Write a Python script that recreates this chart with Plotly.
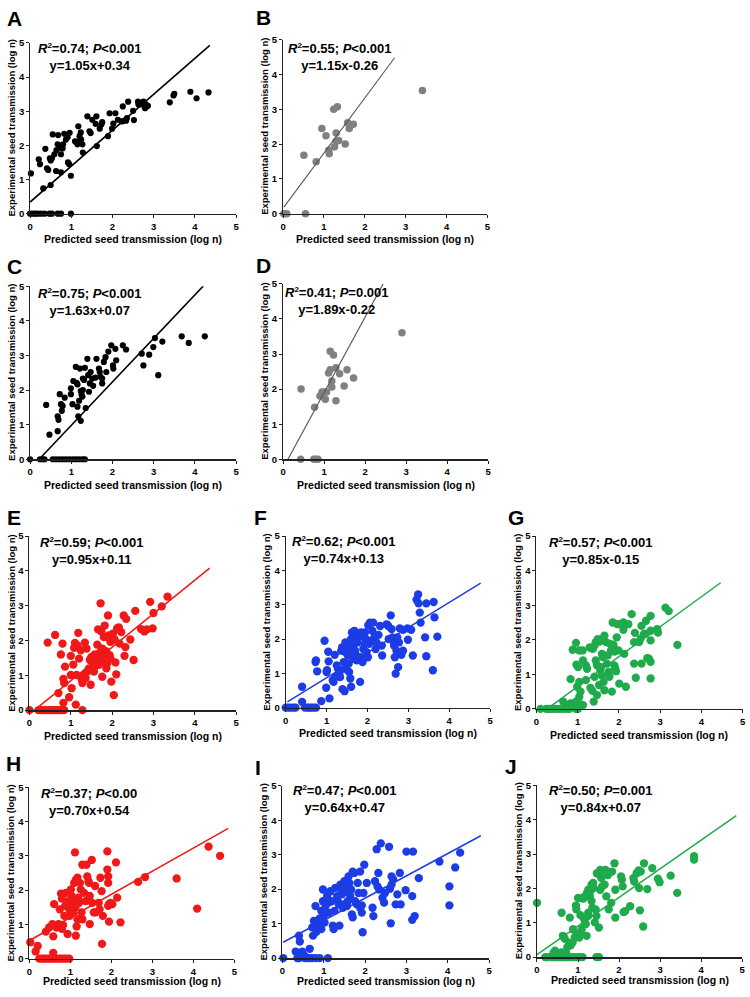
import plotly.graph_objects as go

W, H = 750, 997
FONT = "Liberation Sans, Arial, sans-serif"

# ---------------- data ----------------
A_x = [0.02,0.21,0.24,0.32,0.37,0.41,0.44,0.48,0.50,0.53,
       0.50,0.55,0.59,0.63,0.64,0.67,0.68,0.72,0.75,0.75,
       0.79,0.80,0.83,0.87,0.91,0.92,0.95,0.96,0.99,1.09,
       1.12,1.15,1.17,1.20,1.23,1.24,1.27,1.28,1.39,1.44,
       1.47,1.51,1.59,1.61,1.62,1.69,1.73,1.75,1.89,1.93,
       1.99,2.02,2.07,2.13,2.23,2.27,2.33,2.35,2.25,2.38,
       2.50,2.52,2.62,2.63,2.71,2.75,2.78,2.81,2.83,2.86,
       2.79,3.39,3.48,3.50,3.89,4.04,4.33,
       0.00,0.06,0.12,0.18,0.26,0.35,0.47,0.53,0.67,0.75,0.99]
A_y = [1.18,1.59,1.45,0.74,1.90,1.33,1.28,1.62,1.56,1.62,
       0.84,2.32,1.74,1.25,1.86,2.03,2.30,1.93,1.74,1.21,
       1.91,2.03,2.34,2.17,2.24,1.50,1.45,2.37,1.11,2.12,
       2.10,2.03,2.56,2.27,2.38,2.17,2.03,1.79,2.85,2.41,
       2.36,2.75,2.63,2.85,1.98,2.49,2.61,2.68,2.27,2.94,
       2.49,2.64,2.94,2.75,2.70,2.72,2.72,2.80,3.14,3.28,
       3.01,2.74,3.28,3.20,3.20,3.28,3.23,3.19,3.14,3.16,
       3.09,3.26,3.46,3.51,3.57,3.38,3.55,
       0,0,0,0,0,0,0,0,0,0,0]

B_x = [0.02,0.09,0.55,0.51,0.81,0.95,1.05,1.12,1.13,1.24,
       1.33,1.26,1.30,1.30,1.36,1.52,1.58,1.62,1.72,3.41]
B_y = [0.00,0.00,0.00,1.68,1.49,2.45,2.24,1.82,1.72,3.00,
       3.07,1.92,2.32,2.08,2.10,2.00,2.61,2.45,2.57,3.54]

C_x = [0.39,0.47,0.67,0.67,0.69,0.72,0.77,0.75,0.79,0.84,
       0.99,0.99,1.03,1.05,1.11,1.13,1.15,1.15,1.17,1.19,
       1.21,1.23,1.23,1.25,1.27,1.28,1.28,1.31,1.33,1.35,
       1.39,1.41,1.45,1.43,1.47,1.51,1.53,1.59,1.61,1.67,
       1.69,1.71,1.75,1.79,1.83,1.75,1.85,1.90,1.97,2.01,
       2.02,2.07,2.09,2.25,2.33,2.71,2.75,2.89,2.99,3.03,
       3.11,3.21,3.68,3.85,4.24,
       0.00,0.24,0.30,0.35,0.55,0.63,0.71,0.79,0.87,0.95,1.03,1.11,1.19,1.27,1.33]
C_y = [1.57,0.71,0.81,1.24,1.14,1.88,1.40,1.59,1.54,1.78,
       1.88,2.05,1.59,2.26,2.67,2.21,2.16,1.52,1.24,1.69,
       2.62,1.97,1.11,1.86,1.81,2.00,2.33,2.29,2.64,1.48,
       2.90,2.43,2.19,1.95,2.52,2.33,2.12,2.36,2.90,2.62,
       2.52,2.38,2.33,2.81,2.95,2.19,2.52,3.11,3.29,2.71,
       2.62,3.19,2.86,3.29,3.17,3.05,2.71,3.02,3.24,3.50,
       2.43,3.40,3.55,3.36,3.55,
       0,0,0,0,0,0,0,0,0,0,0,0,0,0,0]

D_x = [0.43,0.44,0.75,0.79,0.85,0.77,0.90,0.95,1.01,1.06,
       1.03,1.11,1.15,1.15,1.19,1.19,1.23,1.29,1.29,1.38,
       1.49,1.56,1.72,2.90]
D_y = [0.00,2.00,0.00,0.00,0.00,1.48,1.80,1.92,1.92,1.92,
       1.71,2.46,3.08,2.55,2.23,2.06,2.97,2.61,1.67,2.44,
       2.09,2.55,2.32,3.61]

E_x = [0.82,0.44,0.62,0.70,0.76,0.80,0.82,0.84,0.86,0.96,
       1.00,1.00,1.02,1.06,1.08,1.10,1.12,1.14,1.16,1.18,
       1.20,1.24,1.26,1.28,1.30,1.32,1.36,1.34,1.38,1.40,
       1.44,1.46,1.48,1.50,1.52,1.48,1.54,1.56,1.58,1.60,
       1.62,1.64,1.66,1.68,1.70,1.72,1.72,1.74,1.76,1.78,
       1.76,1.80,1.82,1.82,1.84,1.86,1.88,1.86,1.88,1.90,
       1.92,1.94,1.96,1.94,1.96,1.98,2.02,2.04,2.06,2.08,
       2.10,2.12,2.16,2.18,2.22,2.28,2.30,2.32,2.34,2.44,
       2.52,2.56,2.70,2.78,2.84,2.92,2.98,3.00,3.20,3.34,
       1.58,1.66,1.74,1.90,1.70,1.62,
       0.00,0.22,0.28,0.34,0.40,0.48,0.52,0.56,0.62,0.68,0.74,0.80,0.84,1.28]
E_y = [0.21,1.94,2.16,0.49,1.60,1.91,0.90,0.78,1.25,0.37,
       1.56,1.01,0.63,1.31,1.79,1.93,0.16,1.01,1.86,2.22,
       1.48,1.72,0.90,0.78,0.87,1.01,0.92,1.94,1.77,1.11,
       1.20,1.44,1.48,1.53,1.39,0.73,1.20,1.11,1.60,1.44,
       1.34,1.88,2.32,1.30,1.44,1.53,3.07,2.26,1.77,1.63,
       0.96,2.10,2.43,1.39,1.53,1.20,1.34,1.69,1.58,2.72,
       2.15,2.05,1.96,1.58,1.48,0.82,2.20,0.43,2.03,1.37,
       1.03,2.35,2.38,1.91,2.24,2.72,1.56,1.81,2.62,2.03,
       1.44,2.85,2.33,2.26,2.32,3.11,2.35,2.79,2.98,3.26,
       1.25,1.50,1.40,1.45,1.65,1.55,
       0,0,0,0,0,0,0,0,0,0,0,0,0,0]

F_x = [0.40,0.40,0.73,0.74,0.77,0.87,0.95,0.99,1.00,1.01,
       1.04,1.05,1.07,1.15,1.17,1.21,1.20,1.25,1.28,1.31,
       1.33,1.36,1.38,1.39,1.44,1.42,1.44,1.46,1.47,1.50,
       1.46,1.52,1.54,1.55,1.58,1.60,1.60,1.62,1.63,1.66,
       1.66,1.68,1.70,1.70,1.72,1.74,1.76,1.78,1.82,1.84,
       1.88,1.84,1.88,1.90,1.93,1.94,1.96,1.98,2.01,2.02,
       2.06,2.04,2.09,2.12,2.14,2.17,2.20,2.22,2.27,2.31,
       2.35,2.36,2.47,2.51,2.52,2.57,2.59,2.61,2.63,2.65,
       2.67,2.69,2.71,2.73,2.75,2.77,2.79,2.83,2.87,2.87,
       2.98,2.99,3.07,3.11,3.20,3.24,3.25,3.28,3.30,3.44,
       3.41,3.44,3.60,3.62,3.64,3.71,
       0.00,0.06,0.12,0.19,0.24,0.47,0.53,0.58,0.63,0.69,0.74]
F_y = [0.61,0.17,1.33,1.38,1.06,0.19,1.95,0.58,1.04,1.09,
       1.63,1.35,0.27,0.80,0.75,0.89,1.54,1.23,1.13,0.99,
       0.89,1.66,1.76,0.54,0.48,1.33,1.13,1.62,1.71,1.81,
       1.90,1.52,1.28,1.04,0.85,0.61,2.00,2.19,1.66,1.81,
       1.42,2.24,2.10,1.66,1.52,1.38,1.90,2.05,0.75,2.19,
       2.10,1.47,1.33,1.71,1.86,2.19,2.00,1.62,1.47,2.40,
       2.48,1.86,1.95,2.24,2.48,2.05,1.71,1.90,2.12,2.38,
       1.81,1.52,2.43,2.38,2.00,2.69,2.29,2.05,1.95,1.81,
       1.47,0.99,1.66,2.05,1.18,1.90,2.31,1.54,1.66,2.27,
       2.31,1.98,2.27,1.52,3.15,3.30,3.04,2.77,2.48,3.04,
       2.05,1.50,1.09,3.08,2.63,2.07,
       0,0,0,0,0,0,0,0,0,0,0]

G_x = [0.65,0.77,0.83,0.88,0.96,1.07,1.13,0.83,0.88,0.96,
       0.97,1.01,0.99,1.04,1.07,1.04,1.12,1.04,1.13,1.20,
       1.23,1.20,1.29,1.33,1.37,1.31,1.36,1.39,1.41,1.44,
       1.41,1.44,1.47,1.47,1.52,1.49,1.53,1.55,1.57,1.59,
       1.59,1.61,1.63,1.65,1.65,1.69,1.71,1.73,1.75,1.77,
       1.79,1.81,1.83,1.85,1.87,1.89,1.89,1.91,1.93,1.95,
       1.97,1.99,2.01,2.05,2.11,2.11,2.13,2.17,2.23,2.31,
       2.37,2.37,2.39,2.41,2.49,2.53,2.55,2.55,2.61,2.65,
       2.66,2.69,2.73,2.77,2.77,2.77,2.77,2.77,2.93,2.95,
       3.13,3.21,3.42,
       0.10,0.24,0.30,0.35,0.41,0.48,0.56,0.64,0.72,0.80,0.96,1.01]
G_y = [0.21,0.10,0.16,0.11,0.21,0.13,0.11,0.86,1.71,1.91,
       1.28,1.21,0.64,0.78,0.50,1.69,1.69,0.35,1.40,1.26,
       1.16,0.83,1.78,1.76,1.74,0.61,0.52,0.21,1.83,1.93,
       0.93,1.40,1.26,0.40,0.69,2.02,1.95,1.12,1.21,0.97,
       1.59,1.50,0.78,0.54,2.12,1.93,1.31,1.55,1.07,0.93,
       1.88,1.69,0.50,2.50,1.85,1.66,1.26,1.18,1.09,2.07,
       2.45,1.69,0.73,2.45,2.50,2.29,1.59,0.64,2.45,2.74,
       1.93,1.31,2.20,0.90,1.93,2.04,2.40,1.31,2.17,2.17,
       2.55,1.47,1.45,1.36,2.26,1.98,2.69,0.88,2.31,2.21,
       2.93,2.83,1.85,
       0,0,0,0,0,0,0,0,0,0,0,0]

H_x = [0.02,0.15,0.20,0.58,0.40,0.48,0.56,0.58,0.60,0.66,
       0.71,0.74,0.77,0.79,0.79,0.82,0.85,0.87,0.89,0.93,
       0.95,0.97,0.98,1.01,1.03,1.05,1.06,1.09,1.09,1.11,
       1.13,1.13,1.17,1.15,1.17,1.19,1.21,1.23,1.25,1.27,
       1.29,1.29,1.39,1.33,1.37,1.41,1.44,1.45,1.47,1.47,
       1.52,1.53,1.57,1.60,1.61,1.69,1.71,1.73,1.76,1.77,
       1.79,1.90,1.90,1.92,1.92,1.92,1.94,1.94,1.98,2.02,
       2.11,2.14,2.22,2.65,2.82,3.59,4.09,4.37,4.65,0.99,
       1.04,1.12,1.00,
       0.24,0.31,0.36,0.42,0.48,0.55,0.60,0.66,0.73,0.79,0.85,0.90,0.97]
H_y = [0.48,0.21,0.37,0.17,0.79,0.91,1.01,0.65,1.59,0.91,
       1.01,1.44,1.90,1.75,0.87,0.98,1.25,1.54,1.92,0.72,
       1.68,1.44,1.25,2.02,1.83,1.49,1.35,1.59,2.21,3.10,
       0.67,2.30,2.36,0.94,1.15,1.78,1.63,2.21,2.02,1.35,
       1.15,2.74,2.74,1.92,1.68,2.40,2.26,2.21,1.83,1.01,
       2.88,1.63,1.35,2.12,1.35,1.63,1.44,2.36,1.97,0.43,
       1.25,2.60,3.13,2.40,2.21,1.54,1.59,1.08,1.63,1.59,
       2.81,1.78,1.06,2.24,2.38,2.34,1.46,3.27,3.00,1.60,
       1.72,1.50,1.40,
       0,0,0,0,0,0,0,0,0,0,0,0,0]

I_x = [0.32,0.48,0.66,0.54,0.40,0.42,0.72,0.74,0.76,0.80,
       0.82,0.84,0.86,0.90,0.92,0.94,0.94,0.98,0.98,1.00,
       1.02,1.04,1.08,1.12,1.12,1.16,1.18,1.22,1.24,1.26,
       1.28,1.32,1.34,1.36,1.38,1.40,1.42,1.44,1.46,1.48,
       1.50,1.52,1.54,1.56,1.58,1.60,1.62,1.64,1.66,1.68,
       1.70,1.70,1.74,1.76,1.80,1.82,1.84,1.88,1.88,1.92,
       1.92,1.94,1.98,1.96,2.04,2.18,2.20,2.24,2.28,2.30,
       2.32,2.34,2.38,2.42,2.46,2.48,2.58,2.60,2.64,2.62,
       2.64,2.68,2.74,2.78,2.84,2.86,2.98,3.00,3.16,3.14,
       3.20,3.14,3.30,3.80,4.04,4.04,4.18,4.30,
       0.02,0.36,0.40,0.54,0.60,0.66,0.72,0.80,0.90,1.10]
I_y = [0.19,0.19,0.27,0.06,0.65,0.48,0.89,0.65,1.08,1.51,
       0.76,0.94,1.08,1.15,1.03,0.84,1.37,1.65,1.99,1.22,
       1.03,1.51,1.80,1.61,1.32,1.94,1.65,0.94,0.84,1.37,
       2.04,1.80,1.65,1.56,0.94,2.13,1.99,1.85,1.46,1.56,
       2.23,2.08,1.94,1.51,1.65,2.37,2.18,1.80,1.99,1.27,
       1.18,2.51,2.47,1.65,1.56,2.18,1.89,2.51,1.46,1.53,
       1.32,0.75,2.71,1.89,2.18,1.46,1.22,2.23,3.16,2.08,
       2.47,1.99,3.33,1.75,1.61,1.89,3.23,2.01,2.13,1.01,
       2.37,2.28,1.56,1.85,2.47,1.56,1.97,3.09,3.09,1.11,
       1.22,1.80,2.32,2.80,2.08,1.53,2.63,3.06,
       0,0,0,0,0,0,0,0,0,0]

J_x = [0.00,0.40,0.44,0.55,0.60,0.66,0.71,0.60,0.63,0.66,
       0.68,0.74,0.79,0.82,0.87,0.80,0.88,0.92,0.95,0.95,
       0.96,1.00,1.03,1.06,1.09,1.06,1.11,1.13,1.17,1.13,
       1.17,1.19,1.21,1.25,1.25,1.22,1.25,1.29,1.30,1.33,
       1.35,1.33,1.37,1.38,1.41,1.43,1.45,1.46,1.51,1.53,
       1.54,1.57,1.54,1.59,1.65,1.67,1.69,1.73,1.75,1.81,
       1.83,1.89,1.91,1.91,2.05,2.07,2.09,2.11,2.15,2.27,
       2.35,2.37,2.43,2.48,2.49,2.51,2.53,2.59,2.61,2.69,
       2.81,2.95,2.99,3.26,3.42,3.83,3.83,
       0.20,0.26,0.36,0.42,0.48,0.55,0.60,0.66,0.72,0.79,0.87,0.95,1.03,1.11,1.45,1.51]
J_y = [1.58,0.12,0.19,0.10,0.14,0.07,0.12,1.29,0.62,0.57,
       0.53,0.29,0.41,0.34,0.43,1.15,0.81,0.57,0.64,1.50,
       1.39,1.72,0.57,0.72,0.81,1.22,1.72,1.70,1.77,1.15,
       1.01,0.96,0.62,1.20,1.29,1.87,1.96,1.77,1.92,1.63,
       1.44,2.11,2.16,2.01,1.01,1.39,1.20,2.44,0.86,2.39,
       2.54,2.30,1.96,2.06,2.11,2.54,1.77,2.39,1.39,1.58,
       2.49,2.73,1.96,1.15,2.35,2.25,2.06,1.31,1.34,1.48,
       2.30,2.20,2.44,2.52,2.01,1.36,2.49,0.89,2.73,1.98,
       2.59,2.28,2.18,2.37,1.87,2.94,2.84,
       0,0,0,0,0,0,0,0,0,0,0,0,0,0,0,0]

# fitted-line end points (data units)
A_fit_x, A_fit_y = [0.00, 4.36], [0.34, 4.93]
B_fit_x, B_fit_y = [0.02, 2.73], [0.19, 4.48]
C_fit_x, C_fit_y = [0.22, 4.20], [0.00, 5.00]
D_fit_x, D_fit_y = [0.12, 2.44], [0.00, 5.00]
E_fit_x, E_fit_y = [0.12, 4.36], [0.00, 4.08]
F_fit_x, F_fit_y = [0.04, 4.77], [0.17, 3.63]
G_fit_x, G_fit_y = [0.26, 4.47], [0.00, 3.65]
H_fit_x, H_fit_y = [0.00, 4.85], [0.53, 3.80]
I_fit_x, I_fit_y = [0.02, 4.80], [0.46, 3.55]
J_fit_x, J_fit_y = [0.00, 4.86], [0.07, 4.12]

LETTERS = ["A", "B", "C", "D", "E", "F", "G", "H", "I", "J"]
R2 = ["0.74", "0.55", "0.75", "0.41", "0.59", "0.62", "0.57", "0.37", "0.47", "0.50"]
PTXT = ["&lt;0.001", "&lt;0.001", "&lt;0.001", "=0.001", "&lt;0.001",
        "&lt;0.001", "&lt;0.001", "&lt;0.00", "&lt;0.001", "=0.001"]
EQS = ["y=1.05x+0.34", "y=1.15x-0.26", "y=1.63x+0.07", "y=1.89x-0.22", "y=0.95x+0.11",
       "y=0.74x+0.13", "y=0.85x-0.15", "y=0.70x+0.54", "y=0.64x+0.47", "y=0.84x+0.07"]
TICKS = [0, 1, 2, 3, 4, 5]
XTITLE = "Predicted seed transmission (log n)"
YTITLE = "Experimental seed transmission (log n)"

# ---------------- styling / layout (pixels) ----------------
BLACK = "#000000"
GRAY = "#808080"
RED = "#f01818"
BLUE = "#1c3ce6"
GREEN = "#1faa4c"

data = [(A_x, A_y, A_fit_x, A_fit_y), (B_x, B_y, B_fit_x, B_fit_y),
        (C_x, C_y, C_fit_x, C_fit_y), (D_x, D_y, D_fit_x, D_fit_y),
        (E_x, E_y, E_fit_x, E_fit_y), (F_x, F_y, F_fit_x, F_fit_y),
        (G_x, G_y, G_fit_x, G_fit_y), (H_x, H_y, H_fit_x, H_fit_y),
        (I_x, I_y, I_fit_x, I_fit_y), (J_x, J_y, J_fit_x, J_fit_y)]

styles = [
    # color, marker size, line color, line width, (x0, x5, ytop, ybottom), letter (cx, cy), stat (cx, cy)
    (BLACK, 6.2, BLACK, 1.6, (27.3, 235.0, 37.3, 210.0), (11.5, 12.5), (87.7, 51.7)),
    (GRAY, 7.5, "#555555", 1.1, (282.3, 488.3, 34.0, 210.0), (263.0, 12.0), (339.3, 51.7)),
    (BLACK, 6.2, BLACK, 1.6, (27.3, 235.0, 283.3, 458.3), (11.5, 263.0), (87.5, 299.7)),
    (GRAY, 7.5, "#555555", 1.1, (282.3, 489.0, 281.0, 458.3), (263.0, 262.5), (336.3, 298.5)),
    (RED, 8.3, RED, 1.5, (26.7, 235.0, 536.0, 712.0), (11.5, 517.0), (89.0, 550.8)),
    (BLUE, 8.3, BLUE, 1.5, (285.0, 491.0, 536.0, 709.5), (260.0, 517.0), (343.0, 550.5)),
    (GREEN, 8.3, GREEN, 1.5, (537.7, 745.5, 536.0, 710.7), (517.5, 517.0), (602.0, 550.7)),
    (RED, 8.3, RED, 1.5, (26.7, 233.3, 790.0, 963.3), (11.0, 765.5), (86.7, 805.0)),
    (BLUE, 8.3, BLUE, 1.5, (281.7, 490.0, 788.5, 962.7), (257.0, 770.5), (344.0, 802.3)),
    (GREEN, 8.3, GREEN, 1.5, (538.3, 745.0, 788.0, 961.7), (512.5, 768.5), (602.0, 802.3)),
]


def fx(p):
    return p / W


def fy(p):
    return 1 - p / H


fig = go.Figure()
layout = {}
annotations = []

for i, ((px_, py_, lx, ly), st, letter, r2, pt, eq) in enumerate(
        zip(data, styles, LETTERS, R2, PTXT, EQS), start=1):
    color, msize, lcol, lw, (x0, x5, yt, yb), (lcx, lcy), (scx, scy) = st
    xa = "x" if i == 1 else f"x{i}"
    ya = "y" if i == 1 else f"y{i}"
    n = min(len(px_), len(py_))
    fig.add_trace(go.Scatter(
        x=px_[:n], y=py_[:n], mode="markers", xaxis=xa, yaxis=ya,
        marker=dict(color=color, size=msize, line=dict(width=0)),
        cliponaxis=False, showlegend=False, hoverinfo="skip"))
    fig.add_trace(go.Scatter(
        x=lx, y=ly, mode="lines", xaxis=xa, yaxis=ya,
        line=dict(color=lcol, width=lw), cliponaxis=False,
        showlegend=False, hoverinfo="skip"))

    tickfont = dict(family=FONT, size=9.5, color="black", weight="bold")
    layout["xaxis" if i == 1 else f"xaxis{i}"] = dict(
        domain=[fx(x0), fx(x5)], anchor=ya, range=[0, 5], tickvals=TICKS,
        showline=True, linecolor="#222222", linewidth=1.6, ticks="outside",
        ticklen=3, tickwidth=1, tickcolor="#222222", showgrid=False,
        zeroline=False, tickfont=tickfont, fixedrange=True)
    layout["yaxis" if i == 1 else f"yaxis{i}"] = dict(
        domain=[fy(yb), fy(yt)], anchor=xa, range=[0, 5], tickvals=TICKS,
        showline=True, linecolor="#222222", linewidth=1, ticks="outside",
        ticklen=3, tickwidth=1, tickcolor="#222222", showgrid=False,
        zeroline=False, tickfont=tickfont, fixedrange=True)

    # panel letter
    annotations.append(dict(
        text=f"<b>{letter}</b>", x=fx(lcx), y=fy(lcy), xref="paper", yref="paper",
        xanchor="center", yanchor="middle", showarrow=False,
        font=dict(family=FONT, size=21, color="black")))
    # statistics
    annotations.append(dict(
        text=(f"<b><i>R</i><sup><span style='font-size:8px'>2</span></sup>={r2}; "
              f"<i>P</i>{pt}<br>{eq}</b>"),
        x=fx(scx), y=fy(scy), xref="paper", yref="paper", align="center",
        xanchor="center", yanchor="middle", showarrow=False,
        font=dict(family=FONT, size=13, color="black")))
    # axis titles
    xt_y = yb + 26 if yb < 900 else yb + 23
    annotations.append(dict(
        text=f"<b>{XTITLE}</b>", x=fx((x0 + x5) / 2), y=fy(xt_y),
        xref="paper", yref="paper", xanchor="center", yanchor="middle",
        showarrow=False, font=dict(family=FONT, size=10.5, color="black")))
    annotations.append(dict(
        text=f"<b>{YTITLE}</b>", x=fx(x0 - 19), y=fy((yt + yb) / 2),
        xref="paper", yref="paper", xanchor="center", yanchor="middle",
        textangle=-90, showarrow=False,
        font=dict(family=FONT, size=9.5, color="black")))

fig.update_layout(
    width=W, height=H, autosize=False,
    margin=dict(l=0, r=0, t=0, b=0),
    paper_bgcolor="white", plot_bgcolor="white",
    font=dict(family=FONT, color="black"),
    annotations=annotations, showlegend=False,
    **layout)

# remove the browser's default 8px body margin so the figure sits at (0, 0)
fig.write_html("out.html",
               config={"displayModeBar": False, "staticPlot": True},
               post_script="document.body.style.margin='0';document.body.style.padding='0';")
